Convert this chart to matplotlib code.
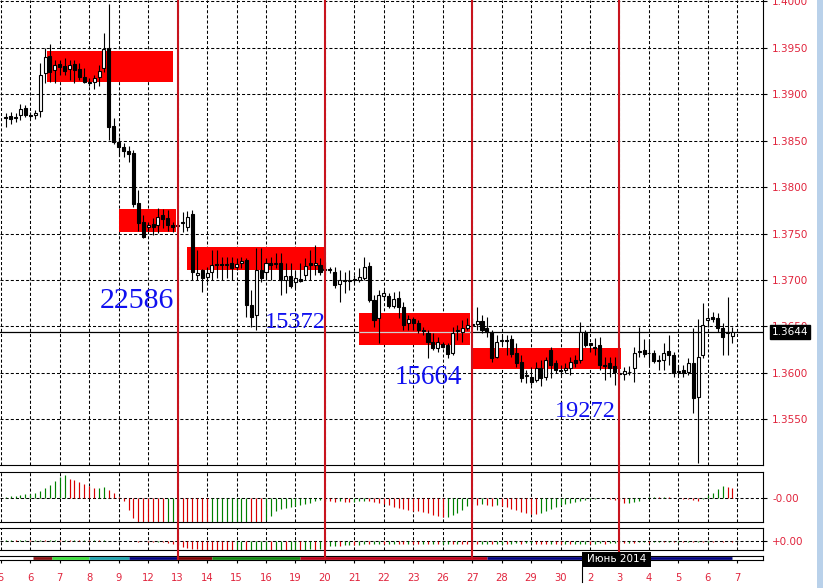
import matplotlib
matplotlib.use("Agg")
import matplotlib.pyplot as plt
import matplotlib.transforms as mtransforms
from matplotlib.lines import Line2D
from matplotlib.patches import Rectangle
import numpy as np

plt.rcParams["lines.scale_dashes"] = False

# ---- H4 candles, bar 0 = first bar of day "6" ----
first_bar = -5
opens = [
    1.38755, 1.38766, 1.38755, 1.38776, 1.38852, 1.38776, 1.38776, 1.38820, 1.39229, 1.39412,
    1.39261, 1.39326, 1.39304, 1.39272, 1.39326, 1.39272, 1.39186, 1.39132, 1.39132, 1.39186,
    1.39283, 1.39498, 1.38658, 1.38486, 1.38432, 1.38389, 1.38367, 1.37829, 1.37624, 1.37570,
    1.37603, 1.37592, 1.37699, 1.37667, 1.37592, 1.37581, 1.37624, 1.37570, 1.37710, 1.37053,
    1.37107, 1.37032, 1.37086, 1.37172, 1.37172, 1.37161, 1.37182, 1.37139, 1.37182, 1.37215,
    1.36730, 1.36622, 1.37107, 1.37086, 1.37182, 1.37172, 1.37182, 1.36999, 1.37042, 1.36978,
    1.37010, 1.37053, 1.37182, 1.37161, 1.37161, 1.37107, 1.37118, 1.37086, 1.36956, 1.36999,
    1.36989, 1.37010, 1.36999, 1.37021, 1.37150, 1.36784, 1.36590, 1.36827, 1.36827, 1.36719,
    1.36806, 1.36709, 1.36536, 1.36579, 1.36536, 1.36461, 1.36429, 1.36332, 1.36267, 1.36310,
    1.36299, 1.36213, 1.36450, 1.36439, 1.36482, 1.36515, 1.36526, 1.36558, 1.36482, 1.36439,
    1.36170, 1.36342, 1.36353, 1.36364, 1.36213, 1.36116, 1.35965, 1.35955, 1.35922, 1.36052,
    1.35955, 1.36245, 1.36105, 1.36030, 1.36030, 1.36052, 1.36138, 1.36138, 1.36429, 1.36321,
    1.36278, 1.36299, 1.36084, 1.36105, 1.36073, 1.35998, 1.35987, 1.36009, 1.36052, 1.36224,
    1.36245, 1.36213, 1.36213, 1.36127, 1.36138, 1.36235, 1.36192, 1.36009, 1.36030, 1.36009,
    1.36105, 1.35739, 1.36192, 1.36569, 1.36601, 1.36590, 1.36482, 1.36429, 1.36396,
]
highs = [
    1.38798, 1.38809, 1.38798, 1.38895, 1.38884, 1.38809, 1.38830, 1.39336, 1.39498, 1.39541,
    1.39369, 1.39369, 1.39390, 1.39369, 1.39369, 1.39336, 1.39283, 1.39175, 1.39207, 1.39315,
    1.39660, 1.39972, 1.38744, 1.38540, 1.38475, 1.38443, 1.38399, 1.37969, 1.37699, 1.37624,
    1.37667, 1.37775, 1.37764, 1.37753, 1.37624, 1.37646, 1.37732, 1.37743, 1.37753, 1.37322,
    1.37118, 1.37139, 1.37322, 1.37322, 1.37247, 1.37247, 1.37247, 1.37236, 1.37247, 1.37236,
    1.36892, 1.37344, 1.37344, 1.37236, 1.37247, 1.37290, 1.37290, 1.37182, 1.37182, 1.37107,
    1.37182, 1.37236, 1.37322, 1.37376, 1.37236, 1.37193, 1.37139, 1.37139, 1.37107, 1.37086,
    1.37107, 1.37053, 1.37129, 1.37247, 1.37193, 1.36838, 1.36892, 1.36892, 1.36859, 1.36870,
    1.36881, 1.36762, 1.36622, 1.36601, 1.36569, 1.36493, 1.36461, 1.36429, 1.36386, 1.36332,
    1.36321, 1.36493, 1.36515, 1.36569, 1.36590, 1.36590, 1.36709, 1.36622, 1.36601, 1.36461,
    1.36407, 1.36407, 1.36407, 1.36407, 1.36321, 1.36192, 1.36030, 1.36062, 1.36116, 1.36138,
    1.36170, 1.36278, 1.36138, 1.36084, 1.36105, 1.36170, 1.36192, 1.36547, 1.36461, 1.36321,
    1.36375, 1.36386, 1.36170, 1.36170, 1.36170, 1.36030, 1.36062, 1.36073, 1.36278, 1.36493,
    1.36364, 1.36353, 1.36245, 1.36192, 1.36321, 1.36407, 1.36224, 1.36084, 1.36084, 1.36159,
    1.36482, 1.36579, 1.36752, 1.36676, 1.36655, 1.36644, 1.36536, 1.36816, 1.36493,
]
lows = [
    1.38647, 1.38680, 1.38701, 1.38723, 1.38755, 1.38744, 1.38733, 1.38755, 1.39121, 1.39132,
    1.39121, 1.39207, 1.39207, 1.39153, 1.39121, 1.39153, 1.39121, 1.39089, 1.39056, 1.39089,
    1.39240, 1.38507, 1.38464, 1.38335, 1.38324, 1.38270, 1.37786, 1.37527, 1.37452, 1.37527,
    1.37484, 1.37506, 1.37559, 1.37527, 1.37516, 1.37538, 1.37516, 1.37527, 1.36999, 1.36999,
    1.36870, 1.36978, 1.36999, 1.37021, 1.36999, 1.37021, 1.36999, 1.37107, 1.37129, 1.36601,
    1.36493, 1.36461, 1.36978, 1.36999, 1.36999, 1.37129, 1.36838, 1.36859, 1.36913, 1.36913,
    1.36978, 1.36999, 1.36999, 1.37053, 1.37053, 1.37053, 1.37075, 1.36913, 1.36762, 1.36859,
    1.36892, 1.36967, 1.36978, 1.36999, 1.36762, 1.36493, 1.36321, 1.36784, 1.36698, 1.36698,
    1.36590, 1.36461, 1.36461, 1.36461, 1.36429, 1.36407, 1.36159, 1.36245, 1.36224, 1.36267,
    1.36159, 1.36192, 1.36353, 1.36332, 1.36461, 1.36482, 1.36461, 1.36429, 1.36386, 1.36116,
    1.36159, 1.36299, 1.36192, 1.36170, 1.36062, 1.35901, 1.35890, 1.35869, 1.35901, 1.35858,
    1.35922, 1.35944, 1.35998, 1.35976, 1.35998, 1.35976, 1.36062, 1.36105, 1.36278, 1.36224,
    1.36192, 1.36030, 1.35922, 1.35955, 1.35869, 1.35944, 1.35922, 1.35976, 1.35901, 1.36170,
    1.36170, 1.36084, 1.36105, 1.36030, 1.36030, 1.36084, 1.35955, 1.35976, 1.35955, 1.35976,
    1.35567, 1.35028, 1.36159, 1.36493, 1.36547, 1.36439, 1.36192, 1.36192, 1.36321,
]
closes = [
    1.38744, 1.38733, 1.38744, 1.38841, 1.38776, 1.38766, 1.38798, 1.39207, 1.39401, 1.39240,
    1.39315, 1.39293, 1.39250, 1.39315, 1.39261, 1.39186, 1.39132, 1.39121, 1.39175, 1.39250,
    1.39487, 1.38647, 1.38486, 1.38432, 1.38389, 1.38356, 1.37818, 1.37613, 1.37463, 1.37592,
    1.37570, 1.37678, 1.37656, 1.37592, 1.37570, 1.37592, 1.37613, 1.37678, 1.37086, 1.37075,
    1.37021, 1.37075, 1.37161, 1.37161, 1.37161, 1.37172, 1.37129, 1.37172, 1.37204, 1.36730,
    1.36601, 1.37107, 1.37021, 1.37182, 1.37161, 1.37182, 1.36999, 1.37042, 1.36935, 1.37021,
    1.36989, 1.37150, 1.37161, 1.37182, 1.37086, 1.37118, 1.37107, 1.36946, 1.36999, 1.36989,
    1.36999, 1.36999, 1.37032, 1.37139, 1.36784, 1.36569, 1.36838, 1.36859, 1.36719, 1.36795,
    1.36709, 1.36515, 1.36579, 1.36536, 1.36461, 1.36450, 1.36332, 1.36267, 1.36332, 1.36278,
    1.36202, 1.36429, 1.36461, 1.36482, 1.36515, 1.36526, 1.36558, 1.36461, 1.36439, 1.36159,
    1.36332, 1.36353, 1.36342, 1.36202, 1.36105, 1.35944, 1.35976, 1.35901, 1.36052, 1.35944,
    1.36138, 1.36084, 1.36030, 1.36019, 1.36052, 1.36116, 1.36105, 1.36439, 1.36299, 1.36299,
    1.36267, 1.36084, 1.36073, 1.36052, 1.36009, 1.35987, 1.36019, 1.36009, 1.36213, 1.36235,
    1.36202, 1.36213, 1.36127, 1.36138, 1.36213, 1.36192, 1.35998, 1.36019, 1.35998, 1.36105,
    1.35729, 1.36170, 1.36515, 1.36590, 1.36579, 1.36482, 1.36386, 1.36439, 1.36439,
]

# two oscillator sub-windows (values in pips)
osc1 = [
    1, 2, 2, 3, 4, 4, 5, 7, 10, 13,
    17, 21, 23, 19, 18, 16, 14, 12, 10, 10.5,
    11, 8, 5, 1, -3, -12, -20, -25, -28, -30,
    -31, -32, -33, -32, -31, -32, -33, -34, -35, -36,
    -37, -38, -37, -36, -35, -34, -33, -32, -31, -30,
    -31, -32, -33, -22, -18, -13, -11, -10, -9, -8,
    -7, -6, -5, -3, -2, -2.5, -3, -3.5, -3, -3.5,
    -4, -3.5, -3, -2.5, -3, -3.5, -4.5, -5.5, -7, -9,
    -10, -11, -12, -12.5, -13, -14, -15, -16.5, -17.5, -19,
    -18.5, -17, -15, -12, -8, -6, -7, -6, -7, -8,
    -7, -8, -9, -11, -12, -14, -15, -15.5, -16, -15,
    -13, -11, -9, -7, -6, -5, -4, -3, -1.5, -0.8,
    -0.5, 0.3, 0.4, -0.5, -1.5, -2.5, -5, -4.5, -4, -3,
    0.5, 1, 1.2, 1, 1.3, 1.1, 0.6, 0.3, -0.3, -1,
    -1.5, -3, -1, 3, 5.5, 9, 12, 11.5, 10.5,
]
osc2 = [
    0.5, 0.7, 0.4, 0.6, 0.8, 0.5, 0.7, 0.9, 0.6, 0.8,
    1.0, 0.7, 0.9, 0.6, 0.8, 0.5, 0.7, 0.4, 0.6, 0.3,
    0.5, 0.2, 0.1, -0.3, -0.5, -0.4, -0.6, -0.8, -0.7, -1.0,
    -1.2, -1.0, -1.5, -2.0, -3.0, -4.5, -6.0, -7.0, -8.0, -8.5,
    -9.0, -9.5, -10.0, -10.5, -11.0, -11.5, -12.0, -11.8, -11.5, -11.6,
    -11.2, -11.0, -10.9, -10.5, -10.6, -10.2, -9.9, -10.0, -9.6, -9.4,
    -9.5, -9.0, -8.7, -8.8, -8.3, -6.0, -5.5, -5.0, -5.2, -4.5,
    -4.0, -4.2, -3.8, -3.5, -3.6, -3.2, -3.0, -3.3, -3.1, -2.8,
    -3.0, -3.2, -2.9, -3.1, -3.3, -3.0, -3.4, -3.2, -3.5, -3.3,
    -3.0, -3.2, -2.9, -3.1, -3.4, -3.2, -3.5, -3.3, -3.1, -3.4,
    -3.2, -2.9, -3.1, -2.8, -2.6, -2.9, -2.7, -2.5, -2.8, -3.0,
    -3.3, -3.1, -3.4, -3.6, -3.3, -3.5, -3.2, -3.0, -2.8, -3.1,
    -2.9, -2.6, -2.8, -2.5, -2.2, -2.0, -2.3, -1.8, -2.0, -1.7,
    -1.5, -1.8, -1.6, -1.3, -1.5, -1.2, -1.4, -1.1, -1.3, -1.0,
    -1.2, -0.9, -1.1, -0.8, -1.0, -0.7, -0.9, -0.6, -0.8,
]

# thin status strip under the oscillators
strip_start = [0.5, 4.5, 12.0, 20.0, 30.0, 37.0, 55.0, 93.0]
strip_end = [4.5, 12.0, 20.0, 30.0, 37.0, 55.0, 93.0, 143.0]
strip_colors = ["#8b1010", "#3ce03c", "#1fa5b0", "#000080",
                "#800000", "#108a10", "#c00018", "#000080"]

day_labels = ["5", "6", "7", "8", "9", "12", "13", "14", "15", "16", "19", "20", "21",
              "22", "23", "26", "27", "28", "29", "30", "2", "3", "4", "5", "6", "7"]
day_bars = [-6, 0, 6, 12, 18, 24, 30, 36, 42, 48, 54, 60, 66,
            72, 78, 84, 90, 96, 102, 108, 114, 120, 126, 132, 138, 144]
week_bars = [30, 60, 90, 120]

price_ticks = [1.3550, 1.3600, 1.3650, 1.3700, 1.3750, 1.3800,
               1.3850, 1.3900, 1.3950, 1.4000]
bid = 1.3644

zone_start = [3.4, 18.0, 32.0, 67.0, 90.0]
zone_end = [29.0, 29.7, 59.8, 89.5, 120.3]
zone_top = [1.39469, 1.37764, 1.37355, 1.36644, 1.36267]
zone_bottom = [1.39135, 1.37516, 1.37107, 1.36299, 1.36041]

vol_text = ["22586", "15372", "15664", "19272"]
vol_bar = [21.73, 53.91, 81.10, 112.97]
vol_price = [1.36698, 1.36482, 1.35879, 1.35524]
vol_size = [21.5, 17.5, 19.5, 17.5]

# ---- layout in pixels ----
W, H = 823, 588
LABEL_RED = "#e0243c"
SEP_RED = "#c8141e"
GRID = dict(color="black", lw=0.75, ls=(0, (2.2, 1.5)))


def px_box(x0, y0, x1, y1):
    return [x0 / W, 1 - y1 / H, (x1 - x0) / W, (y1 - y0) / H]


BAR0_PX, BAR_PX = 30.3, 4.91
xlim = (-BAR0_PX / BAR_PX, (763 - BAR0_PX) / BAR_PX)

fig = plt.figure(figsize=(W / 100, H / 100), dpi=100, facecolor="white")
ax = fig.add_axes(px_box(0, 0, 763, 465))
ax1 = fig.add_axes(px_box(0, 472, 763, 522))
ax2 = fig.add_axes(px_box(0, 528, 763, 550))
ax3 = fig.add_axes(px_box(0, 556, 763, 560))

for a in (ax, ax1, ax2, ax3):
    a.set_xlim(xlim)
    a.spines["left"].set_visible(False)
    for s in a.spines.values():
        s.set_linewidth(0.8)
ax.spines["top"].set_visible(False)

# ---- main price window ----
ax.set_ylim(1.35007, 1.40015)
for p in price_ticks:
    ax.axhline(p, zorder=1, **GRID)
for b in day_bars:
    ax.axvline(b, zorder=1, **GRID)
ax.axhline(bid, color="black", lw=0.9, zorder=1.6)

for s, e, t, b in zip(zone_start, zone_end, zone_top, zone_bottom):
    ax.add_patch(Rectangle((s, b), e - s, t - b, fc="#ff0000", ec="none", zorder=2))
    if b < bid < t:
        ax.hlines(bid, s, e, color="#cfcfcf", lw=0.9, zorder=2.2)

o = np.array(opens)
h = np.array(highs)
l = np.array(lows)
c = np.array(closes)
x = np.arange(first_bar, first_bar + len(o))
up = c >= o
ax.vlines(x, l, h, color="black", lw=0.8, zorder=3)
ax.bar(x[up], (c - o)[up], bottom=o[up], width=0.62, color="white",
       edgecolor="black", linewidth=0.8, zorder=4)
ax.bar(x[~up], (o - c)[~up], bottom=c[~up], width=0.62, color="black",
       edgecolor="black", linewidth=0.8, zorder=4)

for txt, b, p, fs in zip(vol_text, vol_bar, vol_price, vol_size):
    ax.text(b, p, txt, color="#1010f0", fontsize=fs, family="Liberation Serif",
            ha="center", va="baseline", zorder=6)

ax.set_xticks([])
ax.yaxis.tick_right()
ax.set_yticks(price_ticks)
ax.set_yticklabels([f"{p:.4f}" for p in price_ticks])
ax.tick_params(axis="y", direction="out", length=3, width=0.8, pad=3.5,
               labelsize=7.5, labelcolor=LABEL_RED, color="black")
ax.text(771.5 / 763, bid, f"{bid:.4f}", transform=ax.get_yaxis_transform(),
        color="white", fontsize=7.5, ha="left", va="center", zorder=10, clip_on=False,
        bbox=dict(boxstyle="square,pad=0.15", fc="black", ec="black"))

# ---- oscillators ----
for a, vals, lim, lab in [(ax1, osc1, (-23.7, 26.3), "-0.00"),
                          (ax2, osc2, (-9.3, 12.7), "+0.00")]:
    v = np.array(vals)
    prev = np.concatenate([[v[0]], v[:-1]])
    cols = np.where(v >= prev, "#008000", "#d80000")
    a.set_ylim(lim)
    a.axhline(0, zorder=1, **GRID)
    for b in day_bars:
        a.axvline(b, zorder=1, **GRID)
    a.vlines(x, 0, v, colors=cols, lw=0.85, zorder=2)
    a.set_xticks([])
    a.yaxis.tick_right()
    a.set_yticks([0])
    a.set_yticklabels([lab])
    a.tick_params(axis="y", direction="out", length=3, width=0.8, pad=3.5,
                  labelsize=7.5, labelcolor=LABEL_RED, color="black")

# ---- strip + day axis ----
ax3.set_ylim(0, 1)
ax3.set_yticks([])
for s, e, col in zip(strip_start, strip_end, strip_colors):
    ax3.hlines(0.45, s, e, color=col, lw=2.0)
ax3.set_xticks(day_bars)
ax3.set_xticklabels(day_labels)
ax3.tick_params(axis="x", direction="out", length=2.5, width=0.8, pad=7,
                labelsize=7.2, labelcolor=LABEL_RED, color="black")

# weekly separators through all windows
trans = mtransforms.blended_transform_factory(ax.transData, fig.transFigure)
for b in week_bars:
    fig.add_artist(Line2D([b, b], [1 - 559 / H, 1.0], transform=trans,
                          color=SEP_RED, lw=1.5, zorder=5))

# month marker
fig.add_artist(Rectangle((582 / W, 1 - 567 / H), 69 / W, 15 / H,
                         transform=fig.transFigure, fc="black", ec="none", zorder=6))
fig.text(616.5 / W, 1 - 559.5 / H, "Июнь 2014", color="white", fontsize=7.5,
         ha="center", va="center", zorder=7)
fig.add_artist(Line2D([582 / W, 582 / W], [1 - 582 / H, 1 - 567 / H],
                      transform=fig.transFigure, color="black", lw=0.8, zorder=6))

# window border on the right
fig.add_artist(Rectangle((817 / W, 0), 6 / W, 1, transform=fig.transFigure,
                         fc="#b9d1ea", ec="none", zorder=1))

fig.savefig("out.png", dpi=100)
